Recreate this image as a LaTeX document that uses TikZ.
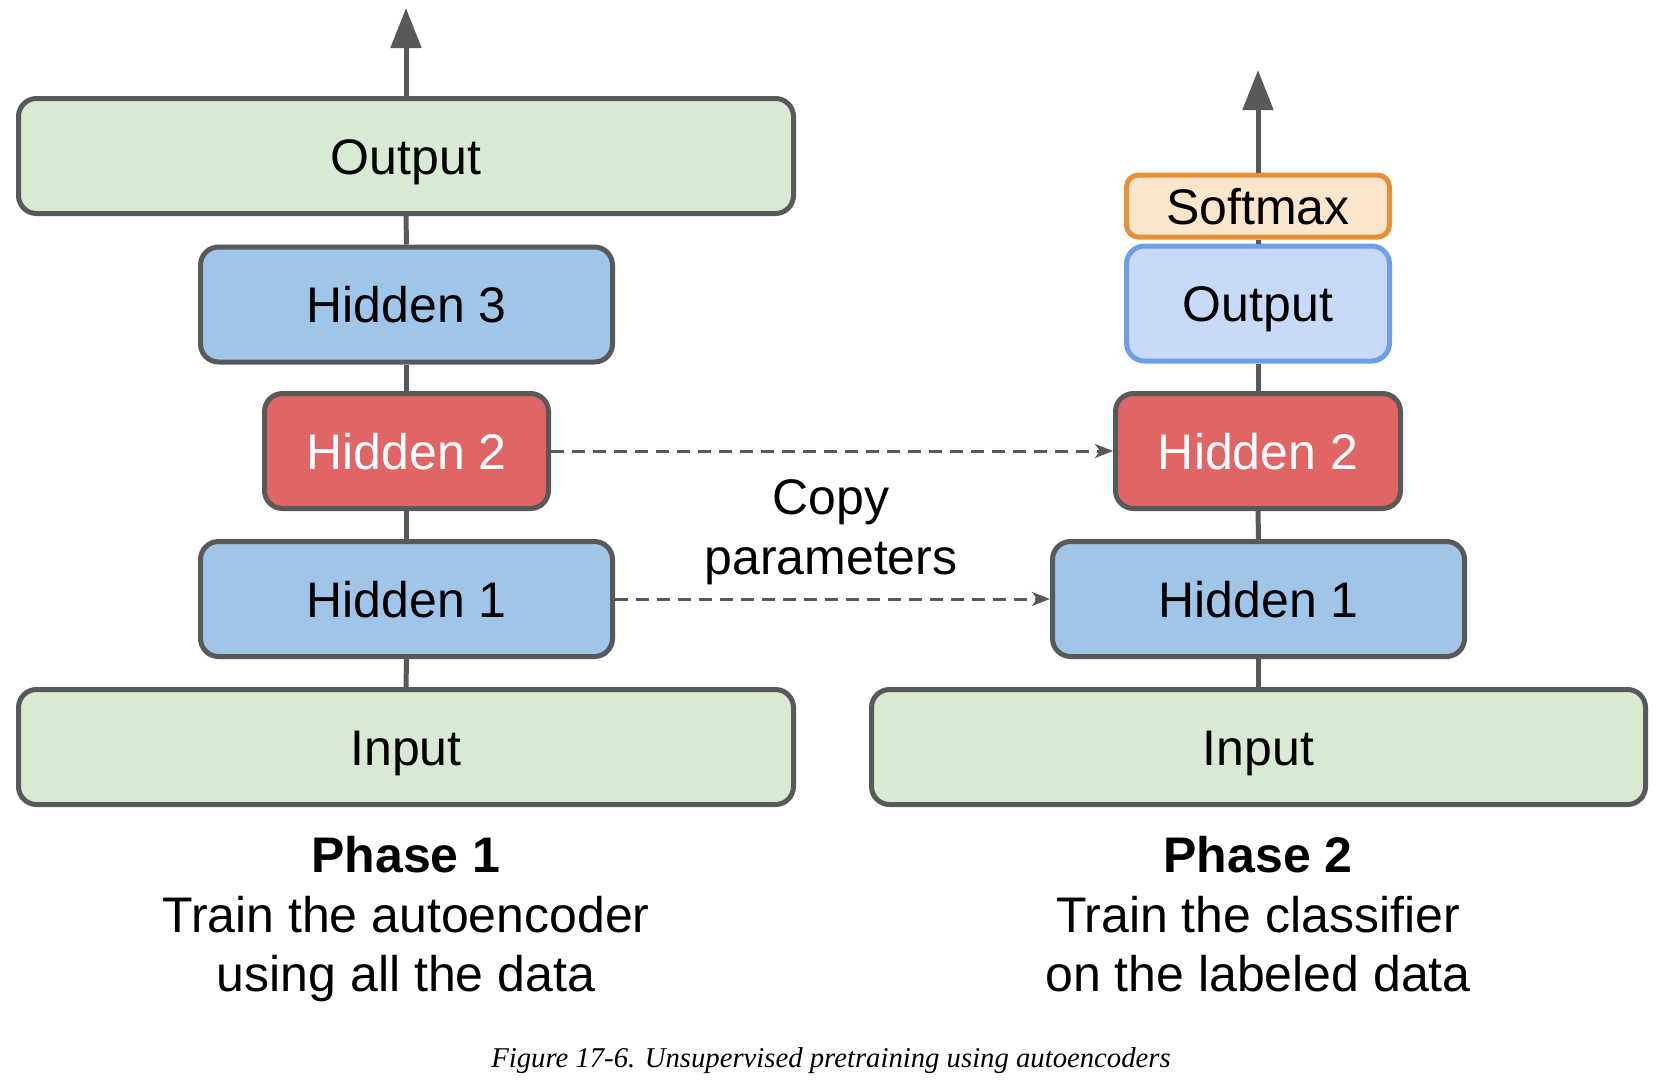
\documentclass[tikz,border=0pt]{standalone}
\usepackage{fontspec}
\setmainfont{Liberation Sans}
\newfontfamily\capfont{Liberation Serif}
\usetikzlibrary{arrows.meta}
\definecolor{bordergray}{HTML}{595959}
\definecolor{greenfill}{HTML}{D9EAD3}
\definecolor{bluefill}{HTML}{9FC5E8}
\definecolor{redfill}{HTML}{E06666}
\definecolor{softfill}{HTML}{FCE5CD}
\definecolor{softborder}{HTML}{E69138}
\definecolor{outfill}{HTML}{C9DAF8}
\definecolor{outborder}{HTML}{6D9EEB}
\tikzset{
  layer/.style={draw=bordergray, line width=5pt, rounded corners=18pt, minimum height=115pt, inner sep=0pt,
    font=\fontsize{50}{59}\selectfont, text=black, text height=36pt, text depth=0pt},
  greenbox/.style={layer, fill=greenfill},
  bluebox/.style={layer, fill=bluefill},
  redbox/.style={layer, fill=redfill, text=white},
  softbox/.style={layer, draw=softborder, fill=softfill, minimum height=62pt, rounded corners=12pt},
  outbox/.style={layer, draw=outborder, fill=outfill},
  link/.style={draw=bordergray, line width=5pt},
  uparrow/.style={draw=bordergray, line width=5pt, -{Triangle[length=40pt,width=30pt]}},
  copyarrow/.style={draw=bordergray, line width=3pt, dash pattern=on 13pt off 8pt, -{Stealth[length=18pt,width=14pt,inset=5pt]}},
  label/.style={align=center, font=\fontsize{50}{59.5}\selectfont, text=black, inner sep=0pt, text depth=0pt}
}
\begin{document}
\begin{tikzpicture}[x=1pt,y=-1pt]
\useasboundingbox (0,0) rectangle (1667,1088);
% Phase 1 column
\node[greenbox, minimum width=775pt] (outl) at (406,156) {Output};
\node[bluebox, minimum width=412pt] (h3l) at (406.5,304.5) {Hidden 3};
\node[redbox, minimum width=284pt] (h2l) at (406.5,451) {Hidden 2};
\node[bluebox, minimum width=412pt] (h1l) at (406.5,599) {Hidden 1};
\node[greenbox, minimum width=775pt] (inl) at (406,747) {Input};
\coordinate (topl) at (406,8);
% Phase 2 column
\node[softbox, minimum width=263pt] (smr) at (1258,206) {Softmax};
\node[outbox, minimum width=263pt] (outr) at (1258,303.5) {Output};
\node[redbox, minimum width=285pt] (h2r) at (1258,451) {Hidden 2};
\node[bluebox, minimum width=412pt] (h1r) at (1258.5,599) {Hidden 1};
\node[greenbox, minimum width=774pt] (inr) at (1258.5,747) {Input};
\coordinate (topr) at (1258,70);
% vertical links
\draw[link] (inl.north) -- (h1l.south);
\draw[link] (h1l.north) -- (h2l.south);
\draw[link] (h2l.north) -- (h3l.south);
\draw[link] (h3l.north) -- (outl.south);
\draw[uparrow] (outl.north) -- (topl);
\draw[link] (inr.north) -- (h1r.south);
\draw[link] (h1r.north) -- (h2r.south);
\draw[link] (h2r.north) -- (outr.south);
\draw[link] (outr.north) -- (smr.south);
\draw[uparrow] (smr.north) -- (topr);
% copy arrows
\draw[copyarrow] (h2l.east) -- (h2r.west);
\draw[copyarrow] (h1l.east) -- (h1r.west);
\node[label] (copy) at (831,527) {Copy\\parameters};
% phase labels
\node[label] (p1) at (406,914) {\textbf{Phase 1}\\Train the autoencoder\\using all the data};
\node[label] (p2) at (1258,914) {\textbf{Phase 2}\\Train the classifier\\on the labeled data};
\node[inner sep=0pt, font=\capfont\itshape\fontsize{28.7}{32}\selectfont] (cap) at (831,1061) {Figure 17-6. Unsupervised pretraining using autoencoders};
\end{tikzpicture}
\end{document}
